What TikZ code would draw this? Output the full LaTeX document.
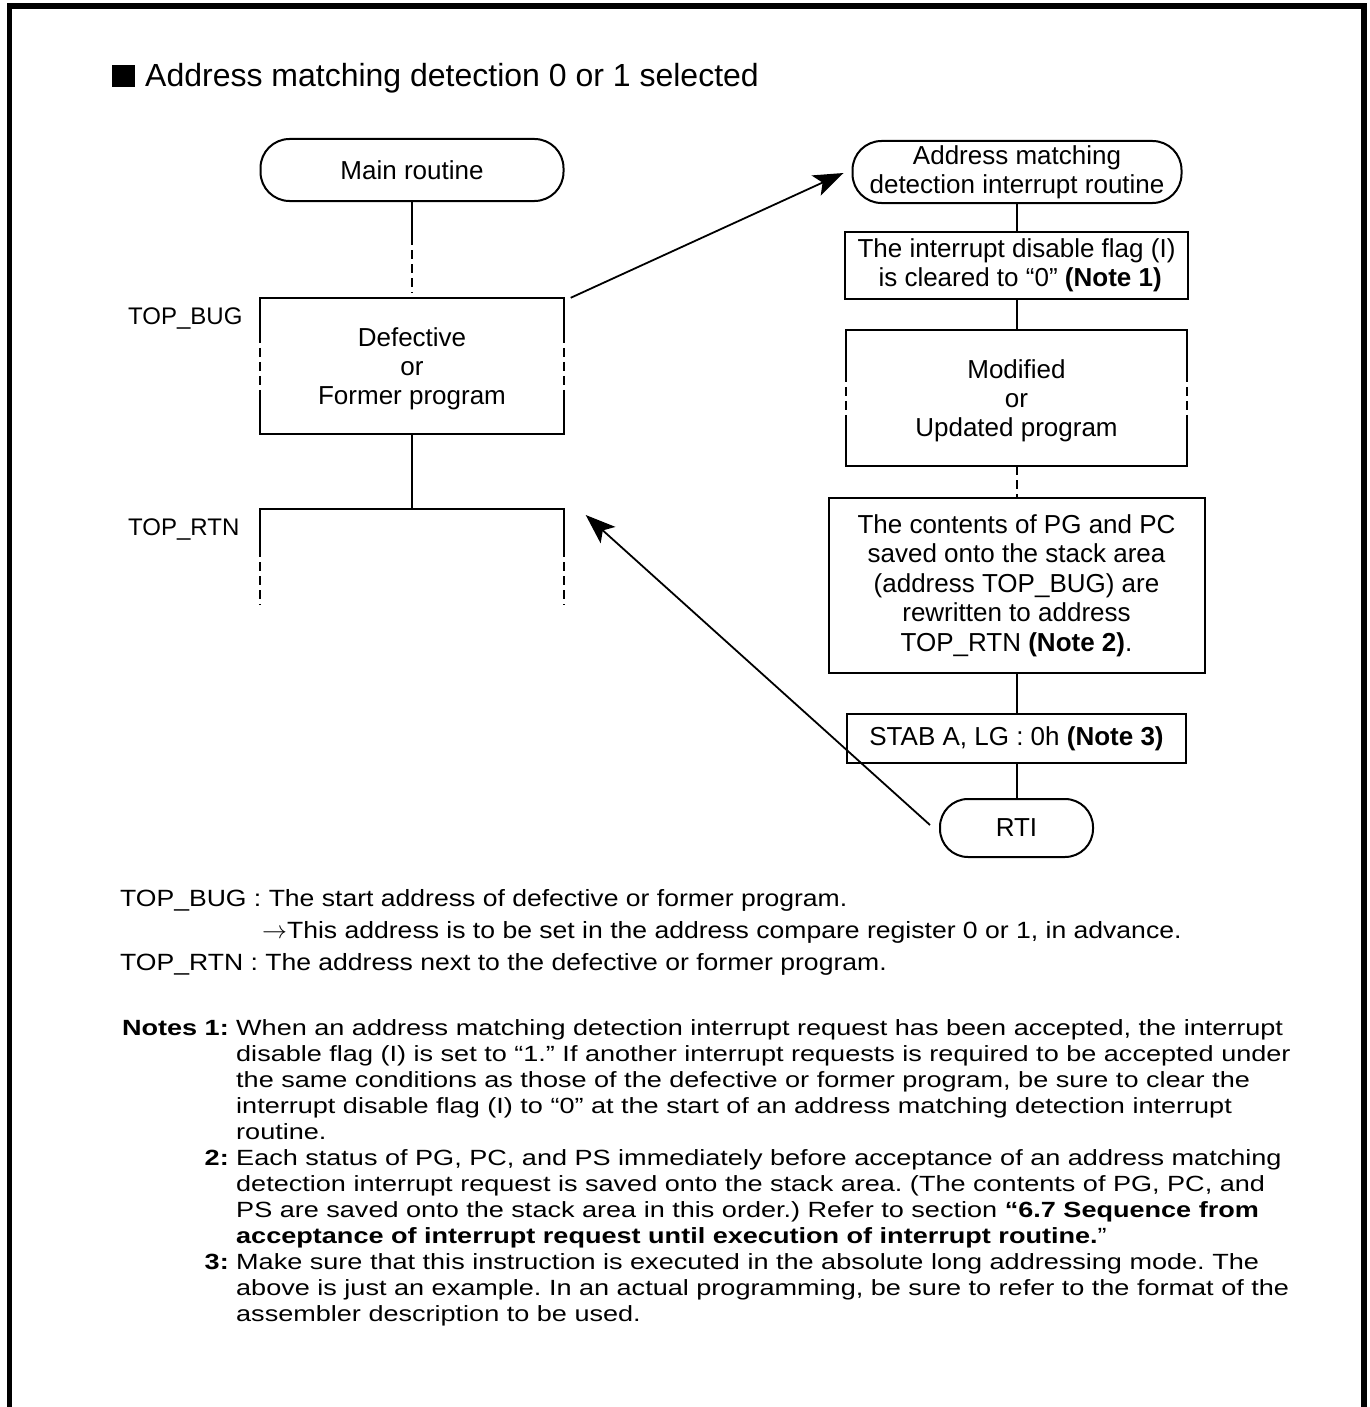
\documentclass[tikz,border=0pt]{standalone}
\usepackage{fontspec}
\setmainfont{Liberation Sans}
\newfontfamily\notefam[FakeStretch=1.23]{Liberation Sans}
\newfontfamily\legfam[FakeStretch=1.13]{Liberation Sans}
\usetikzlibrary{arrows.meta,calc}
\frenchspacing
\newcommand{\bxf}{\fontsize{26}{29}\selectfont}
\newcommand{\cntf}{\fontsize{26}{29.5}\selectfont}
\newcommand{\lblf}{\fontsize{24}{28}\selectfont}
\newcommand{\legf}{\legfam\fontsize{23.5}{32}\selectfont}
\newcommand{\notf}{\notefam\fontsize{22}{26}\selectfont}
\newcommand{\ttlf}{\fontsize{32}{36}\selectfont}
\begin{document}
\begin{tikzpicture}[x=1pt,y=-1pt,
  box/.style={draw, line width=2pt, rectangle, inner sep=0pt, align=center, font=\bxf},
  openbox/.style={rectangle, inner sep=0pt, align=center, font=\bxf},
  term/.style={draw, line width=2pt, rectangle, rounded corners=29pt, inner sep=0pt, align=center, font=\bxf},
  conn/.style={line width=2pt},
  dconn/.style={line width=2pt, dash pattern=on 9pt off 5pt},
  jump/.style={line width=1.8pt, -{Stealth[length=30pt,width=22pt,inset=7pt]}},
  lbl/.style={anchor=base west, inner sep=0pt, font=\lblf},
  leg/.style={anchor=base west, inner sep=0pt, font=\legf},
  note/.style={anchor=base west, inner sep=0pt, font=\notf},
  notelbl/.style={anchor=base east, inner sep=0pt, font=\notf\bfseries},
]
\useasboundingbox (0,0) rectangle (1369,1407);
% outer frame (open at the bottom)
\draw[line width=5.5pt, line join=miter] (9.5,1407) -- (9.5,6) -- (1364,6) -- (1364,1407);

% title
\node[anchor=base west, inner sep=0pt, font=\ttlf] (title) at (112,87) {\rule{23pt}{22pt}\hspace{10pt}Address matching detection 0 or 1 selected};

% ---------------- left column ----------------
\node[term, minimum width=303pt, minimum height=62pt] (main) at (412,170) {Main routine};
\node[openbox, minimum width=303pt, minimum height=136pt, text depth=0pt] (defect) at (412,366) {Defective\\or\\Former program};
\node[openbox, minimum width=303pt, minimum height=96pt, anchor=north] (rtn) at (412,509) {};

% defective box outline
\draw[conn] ($(defect.north west)+(0,36)$) -- (defect.north west) -- (defect.north east) -- ++(0,36);
\draw[conn] ($(defect.south west)+(0,-42)$) -- (defect.south west) -- (defect.south east) -- ++(0,-42);
\draw[dconn] ($(defect.north west)+(0,36)$) -- ($(defect.south west)+(0,-42)$);
\draw[dconn] ($(defect.north east)+(0,36)$) -- ($(defect.south east)+(0,-42)$);

% TOP_RTN open box
\draw[conn] ($(rtn.north west)+(0,39)$) -- (rtn.north west) -- (rtn.north east) -- ++(0,39);
\draw[dconn] ($(rtn.north west)+(0,39)$) -- (rtn.south west);
\draw[dconn] ($(rtn.north east)+(0,39)$) -- (rtn.south east);

% left connectors
\draw[conn] (main.south) -- ++(0,34) coordinate (m1);
\draw[dconn] (m1) -- ($(defect.north)+(0,-5)$);
\draw[conn] (defect.south) -- (rtn.north);

\node[lbl] (lbug) at (128,324.5) {TOP\_BUG};
\node[lbl] (lrtn) at (128,535.5) {TOP\_RTN};

% ---------------- right column ----------------
\node[term, minimum width=329pt, minimum height=62pt] (isr) at (1017,172) {Address matching\\detection interrupt routine};
\node[box, minimum width=343pt, minimum height=67pt] (flag) at (1016.5,265.5) {The interrupt disable flag (I)\\\ is cleared to “0” \textbf{(Note 1)}};
\node[openbox, minimum width=341pt, minimum height=136pt, text depth=0pt] (mod) at (1016.5,398) {Modified\\or\\Updated program};
\node[box, font=\cntf, minimum width=376pt, minimum height=175pt] (cont) at (1016.5,585.5) {The contents of PG and PC\\saved onto the stack area\\(address TOP\_BUG) are\\rewritten to address\\TOP\_RTN \textbf{(Note 2)}.};
\node[box, minimum width=339pt, minimum height=49pt] (stab) at (1016.5,738.5) {STAB A, LG : 0h \textbf{(Note 3)}};
\node[term, minimum width=153pt, minimum height=58pt, rounded corners=28pt] (rti) at (1016.5,828) {RTI};

% modified box outline
\draw[conn] ($(mod.north west)+(0,43)$) -- (mod.north west) -- (mod.north east) -- ++(0,43);
\draw[conn] ($(mod.south west)+(0,-44)$) -- (mod.south west) -- (mod.south east) -- ++(0,-44);
\draw[dconn] ($(mod.north west)+(0,43)$) -- ($(mod.south west)+(0,-44)$);
\draw[dconn] ($(mod.north east)+(0,43)$) -- ($(mod.south east)+(0,-44)$);

% right connectors
\draw[conn] (isr.south -| flag.north) -- (flag.north);
\draw[conn] (flag.south) -- (mod.north);
\draw[dconn] (mod.south) -- (cont.north);
\draw[conn] (cont.south) -- (stab.north);
\draw[conn] (stab.south) -- (rti.north);

% jumps
\draw[jump] ($(defect.north east)+(7,0)$) -- ($(isr.west)+(-8,1)$);
\draw[jump] ($(rti.west)+(-9,-3)$) -- ($(rtn.north east)+(22,6)$);

% ---------------- legend ----------------
\node[leg] (lg1) at (120,906) {TOP\_BUG : The start address of defective or former program.};
\node[leg] (lg2) at (262,938) {$\rightarrow$This address is to be set in the address compare register 0 or 1, in advance.};
\node[leg] (lg3) at (120,970) {TOP\_RTN : The address next to the defective or former program.};

% ---------------- notes ----------------
\node[notelbl] (n1) at (229,1035) {Notes 1:};
\node[note] (n1a) at (236,1035) {When an address matching detection interrupt request has been accepted, the interrupt};
\node[note] (n1b) at (236,1061) {disable flag (I) is set to “1.” If another interrupt requests is required to be accepted under};
\node[note] (n1c) at (236,1087) {the same conditions as those of the defective or former program, be sure to clear the};
\node[note] (n1d) at (236,1113) {interrupt disable flag (I) to “0” at the start of an address matching detection interrupt};
\node[note] (n1e) at (236,1139) {routine.};
\node[notelbl] (n2) at (229,1165) {2:};
\node[note] (n2a) at (236,1165) {Each status of PG, PC, and PS immediately before acceptance of an address matching};
\node[note] (n2b) at (236,1191) {detection interrupt request is saved onto the stack area. (The contents of PG, PC, and};
\node[note] (n2c) at (236,1217) {PS are saved onto the stack area in this order.) Refer to section \textbf{“6.7 Sequence from}};
\node[note] (n2d) at (236,1243) {\textbf{acceptance of interrupt request until execution of interrupt routine.}”};
\node[notelbl] (n3) at (229,1269) {3:};
\node[note] (n3a) at (236,1269) {Make sure that this instruction is executed in the absolute long addressing mode. The};
\node[note] (n3b) at (236,1295) {above is just an example. In an actual programming, be sure to refer to the format of the};
\node[note] (n3c) at (236,1321) {assembler description to be used.};
\end{tikzpicture}
\end{document}
